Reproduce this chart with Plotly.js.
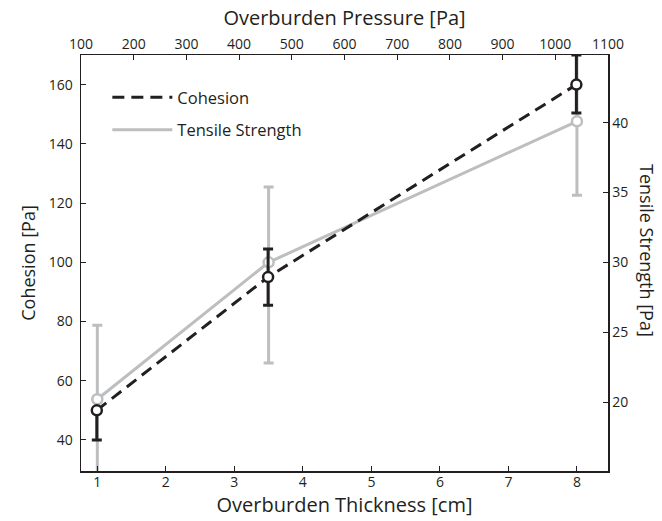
<!DOCTYPE html>
<html>
<head>
<meta charset="utf-8">
<script src="https://cdn.plot.ly/plotly-3.0.1.min.js"></script>
<style>html,body{margin:0;padding:0;background:#fff}#chart{width:662px;height:521px}</style>
</head>
<body>
<div id="chart"></div>
<script>
// ---- data ----
const thickness = [1, 3.5, 8];            // Overburden Thickness [cm]
const pressure = [130, 455, 1040];        // Overburden Pressure [Pa]
const cohesion = [50, 95, 160];           // Cohesion [Pa]
const cohesionErrPlus = [0, 9.5, 10];
const cohesionErrMinus = [10, 9.5, 9.6];
const tensile = [20.2, 30, 40.1];         // Tensile Strength [Pa]
const tensileErrPlus = [5.3, 5.4, 5.3];
const tensileErrMinus = [5.3, 7.2, 5.3];
const thicknessTicks = [1, 2, 3, 4, 5, 6, 7, 8];
const pressureTicks = [100, 200, 300, 400, 500, 600, 700, 800, 900, 1000, 1100];
const cohesionTicks = [40, 60, 80, 100, 120, 140, 160];
const tensileTicks = [20, 25, 30, 35, 40];

const BLACK = '#231f20';
const GRAY = '#bcbec0';
const FONT = 'Open Sans, sans-serif';

const traces = [
  { // tensile strength (bottom x, right y)
    x: thickness, y: tensile, xaxis: 'x', yaxis: 'y',
    type: 'scatter', mode: 'lines+markers', name: 'Tensile Strength',
    showlegend: false, cliponaxis: true,
    line: {color: GRAY, width: 3},
    marker: {symbol: 'circle', size: 10, color: '#ffffff', line: {color: GRAY, width: 2.5}},
    error_y: {type: 'data', symmetric: false, array: tensileErrPlus, arrayminus: tensileErrMinus,
              color: GRAY, thickness: 3, width: 5}
  },
  { // cohesion (top x, left y)
    x: pressure, y: cohesion, xaxis: 'x2', yaxis: 'y2',
    type: 'scatter', mode: 'lines+markers', name: 'Cohesion',
    showlegend: false, cliponaxis: true,
    line: {color: BLACK, width: 3, dash: '12px,7px'},
    marker: {symbol: 'circle', size: 10, color: '#ffffff', line: {color: BLACK, width: 2.5}},
    error_y: {type: 'data', symmetric: false, array: cohesionErrPlus, arrayminus: cohesionErrMinus,
              color: BLACK, thickness: 3, width: 5}
  },
  { // legend entries
    x: [null], y: [null], xaxis: 'x2', yaxis: 'y2', type: 'scatter', mode: 'lines',
    name: 'Cohesion', legendgroup: 'a', showlegend: true,
    line: {color: BLACK, width: 3, dash: '12px,7px'}
  },
  {
    x: [null], y: [null], xaxis: 'x', yaxis: 'y', type: 'scatter', mode: 'lines',
    name: 'Tensile Strength', legendgroup: 'b', showlegend: true,
    line: {color: GRAY, width: 3}
  }
];

const axisCommon = {
  showline: true, linecolor: BLACK, linewidth: 1.5,
  ticks: 'inside', ticklen: 5, tickwidth: 1, tickcolor: BLACK,
  showgrid: false, zeroline: false,
  tickfont: {family: FONT, size: 14, color: BLACK}
};

const layout = {
  width: 662, height: 521,
  margin: {l: 81, r: 54, t: 55, b: 50},
  paper_bgcolor: '#ffffff', plot_bgcolor: '#ffffff',
  font: {family: FONT, color: BLACK},
  showlegend: true,
  legend: {x: 0.05, y: 0.94, xanchor: 'left', yanchor: 'top', itemwidth: 60,
           bgcolor: 'rgba(0,0,0,0)', traceorder: 'grouped', tracegroupgap: 8,
           font: {family: FONT, size: 16.5, color: BLACK}},
  xaxis: Object.assign({}, axisCommon, {
    range: [0.762, 8.453], tickvals: thicknessTicks, ticktext: thicknessTicks.map(String),
    side: 'bottom', anchor: 'y', ticklabelstandoff: -2,
    title: {text: 'Overburden Thickness [cm]', standoff: 3, font: {family: FONT, size: 20, color: BLACK}}
  }),
  xaxis2: Object.assign({}, axisCommon, {
    range: [100, 1100], tickvals: pressureTicks, ticktext: pressureTicks.map(String),
    side: 'top', overlaying: 'x', anchor: 'y2', ticklabelstandoff: -1,
    title: {text: 'Overburden Pressure [Pa]', standoff: 3, font: {family: FONT, size: 20, color: BLACK}}
  }),
  yaxis: Object.assign({}, axisCommon, {
    range: [15.06, 44.85], tickvals: tensileTicks, ticktext: tensileTicks.map(String),
    side: 'right', anchor: 'x', ticklabelstandoff: 0,
    title: {text: ''}
  }),
  yaxis2: Object.assign({}, axisCommon, {
    range: [29.5, 170], tickvals: cohesionTicks, ticktext: cohesionTicks.map(String),
    side: 'left', overlaying: 'y', anchor: 'x2', ticklabelstandoff: 4,
    title: {text: 'Cohesion [Pa]', standoff: 8, font: {family: FONT, size: 18, color: BLACK}}
  }),
  annotations: [{
    text: 'Tensile Strength [Pa]', xref: 'paper', yref: 'paper',
    x: 1.075, y: 0.53, xanchor: 'center', yanchor: 'middle',
    textangle: 90, showarrow: false,
    font: {family: FONT, size: 18, color: BLACK}
  }]
};

Plotly.newPlot('chart', traces, layout, {displayModeBar: false, staticPlot: true});
</script>
</body>
</html>
